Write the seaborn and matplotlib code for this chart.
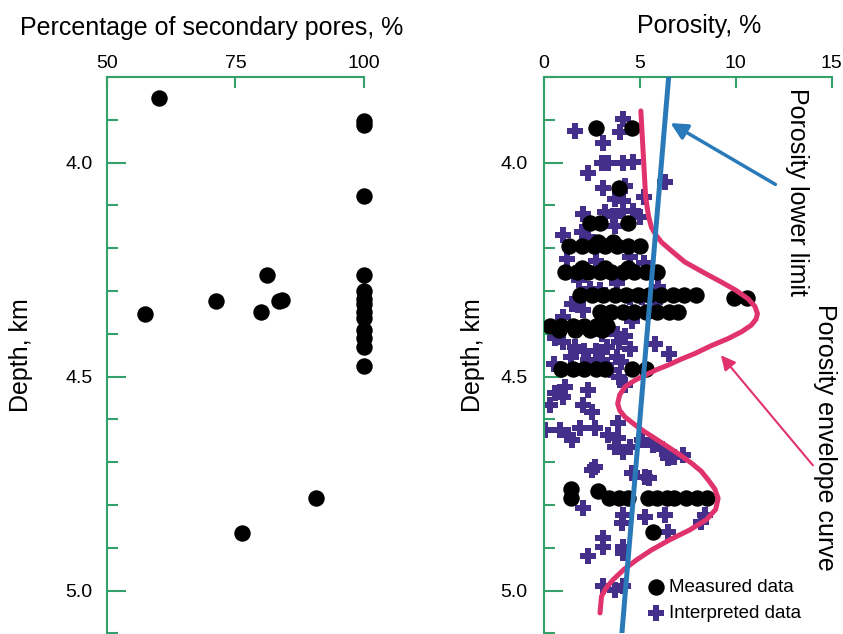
import numpy as np
import pandas as pd
import matplotlib
matplotlib.use("Agg")
import matplotlib.pyplot as plt
from matplotlib.ticker import MultipleLocator, FormatStrFormatter
import seaborn as sns

# ============================
#  DATA
# ============================
# left panel: percentage of secondary pores vs depth
sec_pct = [60.1, 100, 100, 100, 81.1, 100, 71.3, 83.4, 84.1, 80.0, 57.3,
           100, 100, 100, 100, 100, 100, 100, 100, 100, 90.6, 76.2]
sec_depth = [3.848, 3.903, 3.913, 4.077, 4.262, 4.262, 4.323, 4.322, 4.320, 4.350, 4.353,
             4.300, 4.318, 4.330, 4.350, 4.362, 4.390, 4.410, 4.430, 4.475, 4.784, 4.866]

# right panel: measured porosity
meas_por = [2.7, 4.6,
            3.9,
            2.4, 2.9, 4.4,
            1.3, 2.0, 2.6, 3.2, 3.8, 4.4, 5.0, 2.8, 3.6,
            1.1, 1.7, 2.3, 2.9, 3.5, 4.1, 4.7, 5.3, 5.9, 2.0, 3.2, 4.4,
            1.9, 2.5, 3.1, 3.7, 4.3, 4.9, 5.5, 6.1, 6.7, 7.3, 7.9, 9.9, 10.6,
            2.9, 3.5, 4.1, 4.7, 5.3, 5.9, 6.5, 7.0,
            0.3, 0.9, 1.5, 2.1, 2.7, 3.3, 0.8, 1.6, 2.4, 3.0,
            0.9, 1.5, 2.1, 2.7, 3.2, 4.6, 5.3,
            1.4, 1.4, 2.8, 3.4, 3.9, 4.4, 5.4, 5.9, 6.4, 6.8, 7.4, 8.0, 8.5,
            5.7]
meas_depth = [3.919, 3.919,
              4.059,
              4.141, 4.141, 4.141,
              4.195, 4.195, 4.195, 4.195, 4.195, 4.195, 4.195, 4.185, 4.185,
              4.255, 4.255, 4.255, 4.255, 4.255, 4.255, 4.255, 4.255, 4.255, 4.245, 4.245, 4.245,
              4.308, 4.308, 4.308, 4.308, 4.308, 4.308, 4.308, 4.308, 4.308, 4.308, 4.308, 4.316, 4.316,
              4.349, 4.349, 4.349, 4.349, 4.349, 4.349, 4.349, 4.349,
              4.382, 4.382, 4.382, 4.382, 4.382, 4.382, 4.392, 4.392, 4.392, 4.392,
              4.481, 4.481, 4.481, 4.481, 4.481, 4.481, 4.481,
              4.762, 4.784, 4.766, 4.784, 4.784, 4.784, 4.784, 4.784, 4.784, 4.784, 4.784, 4.784, 4.784,
              4.862]

# right panel: interpreted porosity
intp_por = [1.6, 4.1, 3.96, 3.1, 3.35, 3.0, 4.13, 4.65, 2.3, 6.3, 3.1, 4.2, 3.7, 4.1, 5.2,
            2.05, 3.2, 3.6, 4.13, 4.65, 5.0, 3.7,
            1.96, 2.3, 1.0, 1.2, 2.7, 4.5, 5.2, 1.8, 3.8, 5.95, 2.4, 2.9, 1.44, 2.05, 4.5, 5.1,
            5.8, 1.0, 4.6, 0.6, 3.0, 3.8, 4.2, 1.0, 1.6, 2.1, 2.7, 3.3, 3.9, 4.5, 5.8, 6.5,
            1.4, 2.3, 3.0, 3.8, 4.0, 0.5,
            3.5, 3.9, 1.1, 0.57, 1.0, 2.3, 4.2, 0.3, 2.05, 2.5,
            0.05, 0.83, 1.27, 1.44, 1.9, 2.66, 3.87, 3.35, 3.87, 3.7, 4.13, 4.48, 5.09,
            5.7, 6.13, 6.47, 7.26, 6.8, 2.66, 2.5, 4.57, 5.26, 5.5,
            2.05, 4.13, 4.05, 5.26, 6.3, 8.39, 8.2, 6.47, 3.09, 3.09, 4.13, 4.13, 2.31,
            3.09, 3.7, 4.13]
intp_depth = [3.925, 3.898, 3.929, 3.953, 4.000, 4.000, 4.000, 3.999, 4.023, 4.046, 4.058, 4.054, 4.085, 4.089, 4.081,
              4.120, 4.116, 4.124, 4.112, 4.112, 4.128, 4.147,
              4.162, 4.174, 4.170, 4.225, 4.230, 4.220, 4.235, 4.275, 4.280, 4.290, 4.294, 4.298, 4.329, 4.345, 4.314, 4.314,
              4.326, 4.360, 4.370, 4.410, 4.400, 4.400, 4.405, 4.420, 4.430, 4.440, 4.440, 4.430, 4.420, 4.435, 4.423, 4.446,
              4.455, 4.460, 4.460, 4.455, 4.465, 4.470,
              4.485, 4.500, 4.524, 4.539, 4.547, 4.531, 4.520, 4.567, 4.566, 4.582,
              4.625, 4.625, 4.636, 4.648, 4.621, 4.621, 4.609, 4.636, 4.644, 4.664, 4.675, 4.664, 4.648,
              4.660, 4.670, 4.690, 4.683, 4.687, 4.710, 4.718, 4.726, 4.734, 4.737,
              4.807, 4.823, 4.842, 4.827, 4.823, 4.823, 4.840, 4.862, 4.877, 4.897, 4.897, 4.912, 4.920,
              4.990, 4.998, 4.990]

# porosity envelope curve
env_por = [5.05, 5.2, 5.3, 5.45, 5.6, 5.85, 6.13, 6.7, 7.34, 8.3, 9.25, 10.0, 10.64, 11.0, 11.13, 11.05,
           10.8, 10.3, 9.6, 8.7, 7.86, 7.1, 6.47, 5.9, 5.43, 4.75, 4.22, 3.95, 3.84, 3.95, 4.22, 4.7,
           5.26, 5.85, 6.47, 7.1, 7.69, 8.2, 8.56, 8.9, 9.08, 8.95, 8.47, 7.6, 6.56, 5.6, 4.83, 4.15,
           3.61, 3.25, 3.0, 2.92]
env_depth = [3.879, 4.0, 4.08, 4.125, 4.151, 4.17, 4.186, 4.208, 4.232, 4.256, 4.279, 4.298, 4.318, 4.336, 4.353, 4.366,
             4.38, 4.395, 4.411, 4.428, 4.446, 4.46, 4.473, 4.483, 4.493, 4.508, 4.524, 4.542, 4.563, 4.579, 4.594, 4.611,
             4.629, 4.646, 4.664, 4.683, 4.702, 4.721, 4.741, 4.762, 4.784, 4.81, 4.834, 4.858, 4.881, 4.905, 4.928, 4.951,
             4.974, 4.993, 5.013, 5.052]

# porosity lower limit line
lim_por = [6.5, 4.06]
lim_depth = [3.8, 5.1]

# ============================
#  STYLE
# ============================
sns.set_theme(style="white")
plt.rcParams['font.family'] = ['Liberation Sans', 'DejaVu Sans']
plt.rcParams['text.color'] = "black"
plt.rcParams['axes.labelcolor'] = "black"
plt.rcParams['xtick.labelcolor'] = "black"
plt.rcParams['ytick.labelcolor'] = "black"

GREEN = "#34a06a"
BLUE = "#2a7ab9"
PINK = "#e0336e"
PURPLE = "#44308a"

fig = plt.figure(figsize=(8.43, 6.34), dpi=100)
ax1 = fig.add_axes([0.1269, 0.0008, 0.3049, 0.8776])
ax2 = fig.add_axes([0.6453, 0.0008, 0.3413, 0.8776])


def style_axis(ax, xlim, xmajor, xlabel, xlab_pos, ylab_x, ypad):
    ax.set_xlim(*xlim)
    ax.set_ylim(5.1, 3.8)
    for side in ["right", "bottom"]:
        ax.spines[side].set_visible(False)
    for side in ["left", "top"]:
        ax.spines[side].set_color(GREEN)
        ax.spines[side].set_linewidth(1.5)
    ax.xaxis.tick_top()
    ax.xaxis.set_label_position("top")
    ax.xaxis.set_major_locator(MultipleLocator(xmajor))
    ax.yaxis.set_major_locator(MultipleLocator(0.5))
    ax.yaxis.set_minor_locator(MultipleLocator(0.1))
    ax.yaxis.set_major_formatter(FormatStrFormatter("%.1f"))
    ax.tick_params(axis="x", which="major", direction="in", length=8, width=1.5,
                   color=GREEN, labelsize=14, labelcolor="black", pad=3.6, top=True, bottom=False)
    ax.tick_params(axis="y", which="major", direction="in", length=14, width=1.5,
                   color=GREEN, labelsize=14, labelcolor="black", pad=ypad, left=True)
    ax.tick_params(axis="y", which="minor", direction="in", length=8, width=1.5,
                   color=GREEN, left=True)
    ax.set_xlabel(xlabel, fontsize=18, color="black")
    ax.set_ylabel("Depth, km", fontsize=18, color="black")
    ax.xaxis.set_label_coords(xlab_pos[0], xlab_pos[1])
    ax.yaxis.set_label_coords(ylab_x, 0.5)


# ----------------------------------------------------
# 1. Secondary pores
# ----------------------------------------------------
df_sec = pd.DataFrame({"pct": sec_pct, "depth": sec_depth})
sns.scatterplot(data=df_sec, x="pct", y="depth", ax=ax1, color="black",
                s=140, linewidth=0, clip_on=False, legend=False)
style_axis(ax1, (50, 100), 25, "Percentage of secondary pores, %",
           (0.409, 1.0755), -0.288, 10.5)

# ----------------------------------------------------
# 2. Porosity
# ----------------------------------------------------
df_intp = pd.DataFrame({"por": intp_por, "depth": intp_depth})
df_meas = pd.DataFrame({"por": meas_por, "depth": meas_depth})
df_env = pd.DataFrame({"por": env_por, "depth": env_depth})
df_lim = pd.DataFrame({"por": lim_por, "depth": lim_depth})

sns.scatterplot(data=df_intp, x="por", y="depth", ax=ax2, color=PURPLE, marker="P",
                s=135, linewidth=0, label="Interpreted data", zorder=2)
sns.scatterplot(data=df_meas, x="por", y="depth", ax=ax2, color="black", marker="o",
                s=140, linewidth=0, label="Measured data", zorder=3)
sns.lineplot(data=df_env, x="por", y="depth", ax=ax2, color=PINK, lw=3.6,
             sort=False, estimator=None, zorder=4, legend=False)
sns.lineplot(data=df_lim, x="por", y="depth", ax=ax2, color=BLUE, lw=3.6,
             sort=False, estimator=None, zorder=5, legend=False)
style_axis(ax2, (0, 15), 5, "Porosity, %", (0.538, 1.079), -0.205, 12)

ax2.annotate("", xy=(6.47, 3.904), xytext=(12.19, 4.054), annotation_clip=False,
             arrowprops=dict(arrowstyle="-|>", color=BLUE, lw=2.5, mutation_scale=25))
ax2.annotate("", xy=(9.13, 4.445), xytext=(14.11, 4.712), annotation_clip=False,
             arrowprops=dict(arrowstyle="-|>", color=PINK, lw=1.5, mutation_scale=22))
ax2.text(13.18, 4.068, "Porosity lower limit", rotation=270, ha="center", va="center",
         fontsize=18, color="black")
ax2.text(14.64, 4.641, "Porosity envelope curve", rotation=270, ha="center", va="center",
         fontsize=18, color="black")

handles, labels = ax2.get_legend_handles_labels()
ax2.legend(handles[::-1], labels[::-1], loc="lower left", bbox_to_anchor=(0.31, 0.0),
           frameon=False, fontsize=13.5, handletextpad=0.1, handlelength=1.2,
           labelspacing=0.5, borderaxespad=0.2)

fig.savefig("out.png", dpi=100)
